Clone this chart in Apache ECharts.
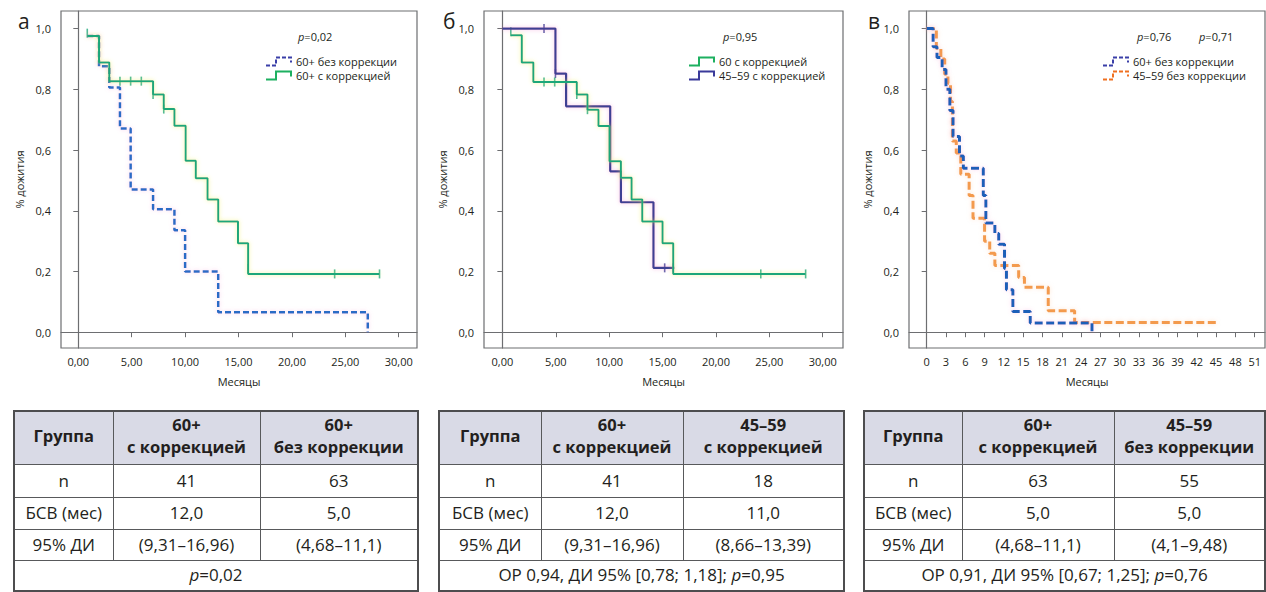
<!DOCTYPE html>
<html><head><meta charset="utf-8">
<script src="https://cdn.jsdelivr.net/npm/echarts/dist/echarts.min.js"></script>
<style>
html,body{margin:0;padding:0;background:#fff;width:1266px;height:592px;overflow:hidden;font-family:'Open Sans',sans-serif;}
.ch{position:absolute;top:0;height:400px;}
table.tb{position:absolute;border-collapse:collapse;table-layout:fixed;font-family:'Open Sans',sans-serif;font-size:17px;color:#231f20;border:2px solid #4d4d4f;}
table.tb td, table.tb th{border:1.5px solid #58595b;text-align:center;padding:0;line-height:20px;}
table.tb th{background:#d9dae6;font-weight:700;font-size:16.5px;line-height:22.5px;padding-bottom:3px;}
table.tb th div{display:block;}
</style></head><body>
<div id="ca" class="ch" style="left:0;width:425px"></div>
<div id="cb" class="ch" style="left:425px;width:425px"></div>
<div id="cc" class="ch" style="left:850px;width:416px"></div>
<div id="tables"></div>
<script>
// ---------- DATA ----------
// Panel а
const aGreenT = [0.84, 1.94, 2.9, 7.0, 8.0, 9.0, 10.05, 11.0, 12.1, 13.1, 14.95, 15.9, 28.2];
const aGreenS = [0.976, 0.888, 0.827, 0.783, 0.735, 0.68, 0.565, 0.507, 0.4375, 0.365, 0.293, 0.192, 0.192];
const aGreenCensT = [0.84, 3.9, 4.9, 5.9, 7.0, 8.0, 15.9, 24.0, 28.2];
const aGreenCensS = [0.985, 0.827, 0.827, 0.827, 0.783, 0.735, 0.21, 0.192, 0.192];
const aBlueT = [0.84, 1.94, 2.9, 3.9, 4.9, 7.0, 9.0, 10.0, 13.1, 27.1];
const aBlueS = [0.976, 0.876, 0.806, 0.671, 0.47, 0.405, 0.336, 0.2, 0.066, 0.0];
// Panel б
const bGreenT = [0.79, 1.82, 2.9, 6.97, 7.97, 9.0, 10.03, 11.1, 12.1, 13.1, 15.0, 16.0, 28.4];
const bGreenS = [0.978, 0.888, 0.824, 0.783, 0.733, 0.679, 0.563, 0.509, 0.437, 0.365, 0.293, 0.192, 0.192];
const bGreenCensT = [0.79, 3.9, 4.9, 6.97, 7.97, 24.2, 28.4];
const bGreenCensS = [0.99, 0.824, 0.824, 0.783, 0.733, 0.192, 0.192];
const bPurpleT = [0, 4.97, 5.97, 10.1, 11.1, 14.15, 16.1];
const bPurpleS = [1.0, 0.852, 0.744, 0.53, 0.428, 0.212, 0.212];
const bPurpleCensT = [3.9, 4.97, 15.2, 16.0];
const bPurpleCensS = [1.0, 0.852, 0.212, 0.212];
// Panel в
const cBlueT = [0, 1.0, 1.6, 2.4, 3.0, 3.6, 4.1, 5.1, 5.7, 8.8, 9.2, 10.6, 11.2, 12.1, 12.4, 13.4, 16.1, 25.7];
const cBlueS = [1.0, 0.94, 0.905, 0.865, 0.80, 0.73, 0.645, 0.58, 0.54, 0.45, 0.36, 0.325, 0.29, 0.21, 0.14, 0.068, 0.03, 0.0];
const cOrangeT = [0, 1.5, 2.2, 2.8, 3.3, 3.7, 4.0, 4.6, 5.3, 6.6, 7.2, 9.0, 9.8, 10.6, 14.3, 15.2, 18.9, 23.0, 45.5];
const cOrangeS = [1.0, 0.935, 0.90, 0.85, 0.82, 0.76, 0.63, 0.59, 0.52, 0.45, 0.375, 0.30, 0.26, 0.22, 0.18, 0.148, 0.071, 0.032, 0.032];
// Tick values
const xTicks30 = [0, 5, 10, 15, 20, 25, 30];
const xTicks51 = [0, 3, 6, 9, 12, 15, 18, 21, 24, 27, 30, 33, 36, 39, 42, 45, 48, 51];
const yTicks = [0, 0.2, 0.4, 0.6, 0.8, 1.0];
// Tables
const t1Head = [['Группа'], ['60+', 'с коррекцией'], ['60+', 'без коррекции']];
const t1N = ['n', '41', '63'];
const t1Med = ['БСВ (мес)', '12,0', '5,0'];
const t1CI = ['95% ДИ', '(9,31–16,96)', '(4,68–11,1)'];
const t1Foot = 'p=0,02';
const t2Head = [['Группа'], ['60+', 'с коррекцией'], ['45–59', 'с коррекцией']];
const t2N = ['n', '41', '18'];
const t2Med = ['БСВ (мес)', '12,0', '11,0'];
const t2CI = ['95% ДИ', '(9,31–16,96)', '(8,66–13,39)'];
const t2Foot = 'ОР 0,94, ДИ 95% [0,78; 1,18]; p=0,95';
const t3Head = [['Группа'], ['60+', 'с коррекцией'], ['45–59', 'без коррекции']];
const t3N = ['n', '63', '55'];
const t3Med = ['БСВ (мес)', '5,0', '5,0'];
const t3CI = ['95% ДИ', '(4,68–11,1)', '(4,1–9,48)'];
const t3Foot = 'ОР 0,91, ДИ 95% [0,67; 1,25]; p=0,76';

// ---------- STYLE / BUILD ----------
const FONT = "'Open Sans', sans-serif";
const AX = '#6d6e71';
const TXT = '#231f20';
const GREEN = '#1ea77a', BLUE_A = '#2b6cc6', PURPLE = '#3e3f93', BLUE_C = '#1f5fb8', ORANGE = '#f39a4e';
const zip = (T, S) => T.map((t, i) => [t, S[i]]);
const STEP_ICON = 'path://M0,8 L10,8 L10,0 L25,0 L25,5';

function lineSeries(name, T, S, color, dashed, width, halo) {
  return {
    type: 'line', name, step: 'end', showSymbol: false, symbol: 'none', silent: true,
    data: zip(T, S),
    lineStyle: { color, width, type: dashed ? dashed : 'solid', shadowColor: halo, shadowBlur: 4 },
    itemStyle: { color }
  };
}
function censSeries(T, S, color) {
  return { type: 'scatter', data: zip(T, S), symbol: 'rect', symbolSize: [1.6, 9], itemStyle: { color }, silent: true };
}
function legItem(name, color, dashed) {
  return { name, icon: STEP_ICON, itemStyle: { color: 'transparent', borderColor: color, borderWidth: 2, borderType: dashed ? [4, 2] : 'solid' } };
}

function makeOpt(c) {
  return {
    animation: false,
    textStyle: { fontFamily: FONT },
    title: [{ text: c.letter, left: 13, top: 5, textStyle: { fontSize: 21, fontWeight: 'normal', color: TXT, fontFamily: FONT } }]
      .concat(c.pTexts.map(p => ({ text: '{i|p}' + p.v, left: p.x, top: 26, textStyle: { fontSize: 11, fontWeight: 'normal', color: TXT, fontFamily: FONT, rich: { i: { fontStyle: 'italic', fontSize: 11, color: TXT, fontFamily: FONT } } } }))),
    legend: { left: c.legLeft, top: 55, orient: 'vertical', itemWidth: 25, itemHeight: 8, itemGap: 1, padding: 0, selectedMode: false,
      textStyle: { fontSize: 11, color: TXT, lineHeight: 13, fontFamily: FONT }, data: c.legend },
    grid: { left: c.gl, top: 11, width: c.gw, height: 337, show: true, borderColor: AX, borderWidth: 1.2, backgroundColor: '#fff' },
    xAxis: { type: 'value', min: c.xmin, max: c.xmax, name: 'Месяцы', nameLocation: 'middle', nameGap: 28,
      nameTextStyle: { fontSize: 11, color: TXT, fontFamily: FONT },
      axisLine: { show: true, lineStyle: { color: AX, width: 1.2 } },
      axisTick: { show: true, length: 5, customValues: c.xticks, lineStyle: { color: AX } },
      axisLabel: { customValues: c.xticks, formatter: c.xfmt, margin: 8, fontSize: 11, color: TXT, fontFamily: FONT },
      splitLine: { show: false } },
    yAxis: { type: 'value', min: -0.052, max: 1.058, name: '% дожития', nameLocation: 'middle', nameGap: 34, nameRotate: 90,
      nameTextStyle: { fontSize: 11, color: TXT, fontFamily: FONT },
      axisLine: { show: true, lineStyle: { color: AX, width: 1.2 } },
      axisTick: { show: true, length: 5, customValues: yTicks, lineStyle: { color: AX } },
      axisLabel: { customValues: yTicks, formatter: v => v.toFixed(1).replace('.', ','), margin: 10, fontSize: 11, color: TXT, fontFamily: FONT },
      splitLine: { show: false } },
    series: c.series
  };
}
const fmt2 = v => v.toFixed(2).replace('.', ',');
const fmt0 = v => String(Math.round(v));

const ca = echarts.init(document.getElementById('ca'), null, { renderer: 'svg' });
ca.setOption(makeOpt({
  letter: 'а', pTexts: [{ x: 293, v: '=0,02' }], legLeft: 265,
  legend: [legItem('60+ без коррекции', '#3a3fa8', true), legItem('60+ с коррекцией', '#1db060', false)],
  gl: 61, gw: 356, xmin: -1.62, xmax: 31.71, xticks: xTicks30, xfmt: fmt2,
  series: [
    lineSeries('60+ без коррекции', aBlueT, aBlueS, BLUE_A, [6, 3], 2.5, 'rgba(240,120,200,0.35)'),
    lineSeries('60+ с коррекцией', aGreenT, aGreenS, GREEN, null, 2, 'rgba(240,240,80,0.6)'),
    censSeries(aGreenCensT, aGreenCensS, GREEN)
  ]
}));

const cb = echarts.init(document.getElementById('cb'), null, { renderer: 'svg' });
cb.setOption(makeOpt({
  letter: 'б', pTexts: [{ x: 293, v: '=0,95' }], legLeft: 263,
  legend: [legItem('60 с коррекцией', '#1db060', false), legItem('45–59 с коррекцией', '#3a3a9a', false)],
  gl: 59, gw: 359, xmin: -1.72, xmax: 31.9, xticks: xTicks30, xfmt: fmt2,
  series: [
    lineSeries('45–59 с коррекцией', bPurpleT, bPurpleS, PURPLE, null, 2.2, 'rgba(240,120,200,0.45)'),
    censSeries(bPurpleCensT, bPurpleCensS, PURPLE),
    lineSeries('60 с коррекцией', bGreenT, bGreenS, GREEN, null, 2, 'rgba(240,240,80,0.6)'),
    censSeries(bGreenCensT, bGreenCensS, GREEN)
  ]
}));

const cc = echarts.init(document.getElementById('cc'), null, { renderer: 'svg' });
cc.setOption(makeOpt({
  letter: 'в', pTexts: [{ x: 282, v: '=0,76' }, { x: 344, v: '=0,71' }], legLeft: 252,
  legend: [legItem('60+ без коррекции', '#3a3fa8', true), legItem('45–59 без коррекции', '#f07020', true)],
  gl: 59, gw: 356, xmin: -2.75, xmax: 52.6, xticks: xTicks51, xfmt: fmt0,
  series: [
    lineSeries('45–59 без коррекции', cOrangeT, cOrangeS, ORANGE, [8, 3.5], 3, 'rgba(250,200,160,0.5)'),
    lineSeries('60+ без коррекции', cBlueT, cBlueS, BLUE_C, [8, 3.5], 3, 'rgba(240,120,200,0.3)')
  ]
}));

// ---------- TABLES ----------
function buildTable(left, widths, head, rows, foot) {
  const pf = foot.replace('p=', '<i>p</i>=');
  let h = `<table class="tb" style="left:${left}px;top:410px;width:${widths.reduce((a, b) => a + b, 0)}px">`;
  h += '<colgroup>' + widths.map(w => `<col style="width:${w}px">`).join('') + '</colgroup>';
  h += '<tr style="height:53px">' + head.map(x => `<th>${x.map(s => `<div>${s}</div>`).join('')}</th>`).join('') + '</tr>';
  const hs = [33, 32, 31];
  rows.forEach((r, i) => { h += `<tr style="height:${hs[i]}px">` + r.map(x => `<td>${x}</td>`).join('') + '</tr>'; });
  h += `<tr style="height:31px"><td colspan="3">${pf}</td></tr></table>`;
  return h;
}
document.getElementById('tables').innerHTML =
  buildTable(13, [99, 147, 158], t1Head, [t1N, t1Med, t1CI], t1Foot) +
  buildTable(438, [102, 142, 161], t2Head, [t2N, t2Med, t2CI], t2Foot) +
  buildTable(863, [98, 152, 151], t3Head, [t3N, t3Med, t3CI], t3Foot);
</script>
</body></html>
